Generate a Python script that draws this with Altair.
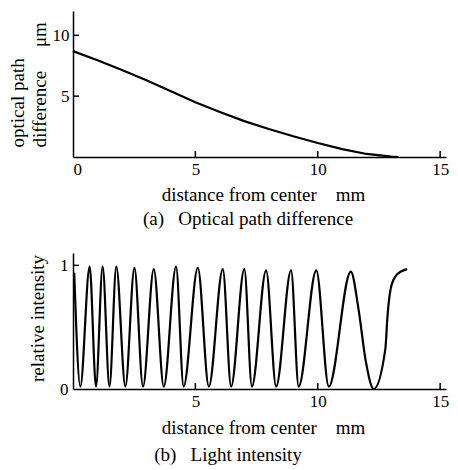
import altair as alt
import pandas as pd

FONT = "Liberation Serif"

# ---- (a) optical path difference (µm) vs distance from center (mm)
opd_x = [0, 1, 2, 3, 4, 5, 6, 7, 8, 9, 10, 11, 12, 13, 13.3]
opd_y = [8.7, 7.95, 7.15, 6.3, 5.4, 4.5, 3.7, 2.95, 2.3, 1.7, 1.15, 0.65, 0.25, 0.03, 0.0]

# ---- (b) relative intensity vs distance from center (mm)
int_x = [0.05, 0.30, 0.68, 0.94, 1.21, 1.49, 1.77, 2.14, 2.51, 2.86, 3.30, 3.71,
         4.21, 4.52, 5.10, 5.55, 6.12, 6.46, 7.00, 7.31, 7.89, 8.30, 8.91, 9.22,
         9.94, 10.45, 11.35, 11.67, 11.95, 12.29, 12.76, 12.85, 12.97, 13.17, 13.40, 13.65]
int_y = [0.94, 0.02, 0.99, 0.02, 0.99, 0.02, 0.99, 0.02, 0.98, 0.02, 0.97, 0.02,
         0.99, 0.02, 0.98, 0.02, 0.97, 0.02, 0.97, 0.02, 0.96, 0.02, 0.96, 0.02,
         0.96, 0.02, 0.95, 0.64, 0.24, 0.0, 0.32, 0.59, 0.80, 0.91, 0.95, 0.97]

# tick values and texts
xticks_a = [0, 5, 10, 15]
yticks_a = [5, 10]
xticks_b = [5, 10, 15]
yticks_b = [0, 1]
inner_x_a = [5, 10, 15]
inner_y_a = [5, 10]
inner_x_b = [5, 10, 15]
inner_y_b = [1]

NB = "\u00a0"
xtitle = "distance from center" + NB * 4 + "mm"
ytitle_a = ["optical path", "difference" + NB * 5 + "\u03bcm"]
ytitle_b = "relative intensity"
caption_a = "(a)" + NB * 3 + "Optical path difference"
caption_b = "(b)" + NB * 3 + "Light intensity"

W = 373
HA = 146
HB = 136
xs = alt.Scale(domain=[0, 15.24], nice=False, zero=False)
ys_a = alt.Scale(domain=[0, 12], nice=False)
ys_b = alt.Scale(domain=[0, 1.1], nice=False)

df_a = pd.DataFrame({"x": opd_x, "y": opd_y})
df_b = pd.DataFrame({"x": int_x, "y": int_y})


def xaxis(values, ty):
    return alt.Axis(values=values, title=xtitle, ticks=False, grid=False, format="d",
                    labelPadding=4, titleX=190, titleY=ty, titleAlign="center",
                    titleBaseline="middle")


xax_a = xaxis(xticks_a, 37)
yax_a = alt.Axis(values=yticks_a, title=ytitle_a, ticks=False, grid=False, labelPadding=4,
                 format="d", titleAngle=270, titleAlign="left", titleBaseline="top",
                 titleX=-65, titleY=136, titleLineHeight=22)
xax_b = xaxis(xticks_b, 38)
yax_b = alt.Axis(values=yticks_b, title=ytitle_b, ticks=False, grid=False, labelPadding=5,
                 format="d", titleAngle=270, titleAlign="center", titleBaseline="middle",
                 titleX=-36, titleY=65)

line_a = alt.Chart(df_a).mark_line(color="black", strokeWidth=2.2).encode(
    x=alt.X("x:Q", scale=xs, axis=xax_a),
    y=alt.Y("y:Q", scale=ys_a, axis=yax_a),
)
tx_a = alt.Chart(pd.DataFrame({"x": inner_x_a})).mark_rule(color="black", strokeWidth=1.5).encode(
    x=alt.X("x:Q", scale=xs, axis=xax_a), y=alt.value(HA), y2=alt.value(HA - 6))
ty_a = alt.Chart(pd.DataFrame({"y": inner_y_a})).mark_rule(color="black", strokeWidth=1.5).encode(
    y=alt.Y("y:Q", scale=ys_a, axis=yax_a), x=alt.value(0), x2=alt.value(6))
cap_a = alt.Chart(pd.DataFrame({"t": [caption_a]})).mark_text(
    font=FONT, fontSize=19, align="center", baseline="middle", color="black").encode(
    x=alt.value(175), y=alt.value(HA + 62), text="t:N")

top = alt.layer(line_a, tx_a, ty_a, cap_a).properties(width=W, height=HA)

line_b = alt.Chart(df_b).mark_line(color="black", strokeWidth=2.2, interpolate="monotone").encode(
    x=alt.X("x:Q", scale=xs, axis=xax_b),
    y=alt.Y("y:Q", scale=ys_b, axis=yax_b),
)
tx_b = alt.Chart(pd.DataFrame({"x": inner_x_b})).mark_rule(color="black", strokeWidth=1.5).encode(
    x=alt.X("x:Q", scale=xs, axis=xax_b), y=alt.value(HB), y2=alt.value(HB - 6))
ty_b = alt.Chart(pd.DataFrame({"y": inner_y_b})).mark_rule(color="black", strokeWidth=1.5).encode(
    y=alt.Y("y:Q", scale=ys_b, axis=yax_b), x=alt.value(0), x2=alt.value(6))
cap_b = alt.Chart(pd.DataFrame({"t": [caption_b]})).mark_text(
    font=FONT, fontSize=19, align="center", baseline="middle", color="black").encode(
    x=alt.value(155), y=alt.value(HB + 66), text="t:N")

bottom = alt.layer(line_b, tx_b, ty_b, cap_b).properties(width=W, height=HB)

chart = alt.vconcat(top, bottom, spacing=96, bounds="flush").properties(
    padding={"left": 0, "top": 3, "right": 0, "bottom": 0}
).configure_view(stroke=None).configure_axis(
    domainColor="black", domainWidth=1.5, labelColor="black", titleColor="black",
    labelFont=FONT, titleFont=FONT, labelFontSize=17, titleFontSize=19,
    titleFontWeight="normal",
)

chart.save("out.html", embed_options={"renderer": "svg", "actions": False})
